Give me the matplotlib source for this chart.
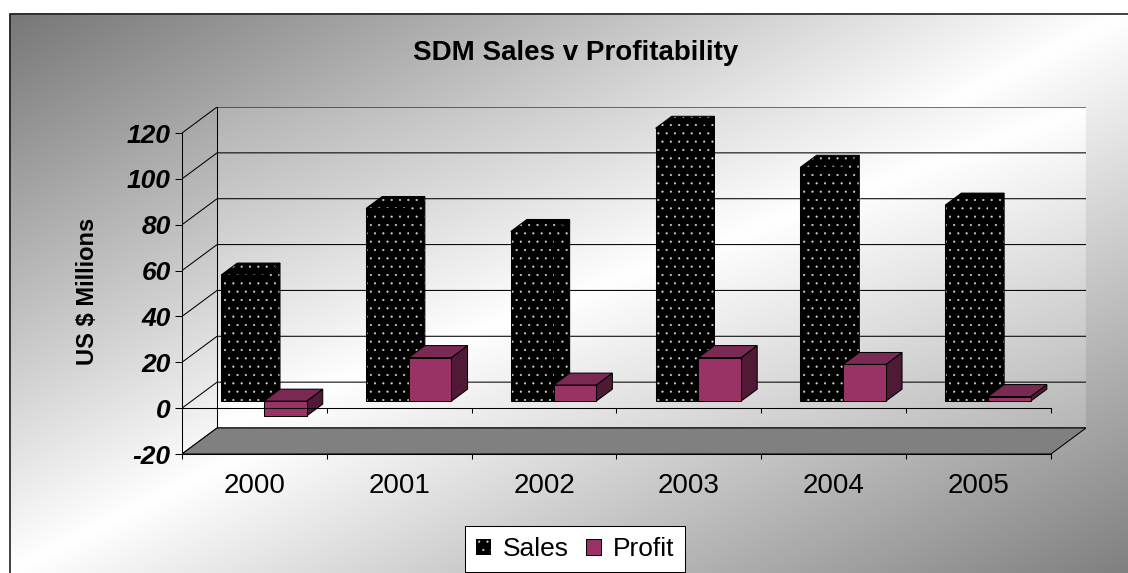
import numpy as np
import matplotlib.pyplot as plt
from matplotlib.patches import Polygon, Patch, Rectangle

plt.rcParams['font.family'] = ['Liberation Sans', 'DejaVu Sans']
plt.rcParams['hatch.color'] = '#d8d8d8'
plt.rcParams['hatch.linewidth'] = 0.3

years = ['2000', '2001', '2002', '2003', '2004', '2005']
sales = [55, 84, 74, 119, 102, 85.5]
profit = [-6.5, 19, 7, 19, 16, 2]
yticks = [-20, 0, 20, 40, 60, 80, 100, 120]

W, H = 1128, 573
DX, DY = 0.242, 11.34      # depth of the 3d box, in data units
F0, F1 = 0.27, 0.73        # bars sit between these fractions of the depth
BW = 0.295
PLUM, PLUM_TOP, PLUM_SIDE = '#993366', '#7a2952', '#4f1a36'
LW = 0.75


def diag_gradient(nx, ny, dark, dark2):
    # dark top-left and bottom-right, white along the other diagonal
    u = np.linspace(0, 1, nx)[None, :]
    v = np.linspace(0, 1, ny)[:, None]
    s = u + v
    t = 1 - np.abs(s - 1)
    d = np.where(s < 1, dark, dark2)
    g = (d + (255 - d) * t) / 255
    return np.dstack([g, g, g])


fig = plt.figure(figsize=(W / 100, H / 100), dpi=100)

bg = fig.add_axes([0, 0, 1, 1])
bg.imshow(diag_gradient(400, 200, 119, 128), extent=(9, W, H, 13),
          aspect='auto', interpolation='bilinear')
bg.add_patch(Rectangle((9.5, 13.5), W + 50, H + 50, fill=False,
                       ec='#222222', lw=1.2, clip_on=False))
bg.set_xlim(0, W)
bg.set_ylim(H, 0)
bg.axis('off')

ax = fig.add_axes([182 / W, 1 - 454 / H, (1086 - 182) / W, (454 - 107) / H])
ax.set_facecolor('none')
n = len(years)
lo, hi = yticks[0], yticks[-1]

# back wall
ax.imshow(diag_gradient(300, 150, 178, 182), extent=(DX, n + DX, lo + DY, hi + DY),
          aspect='auto', interpolation='bilinear', zorder=0)
for v in yticks:
    ax.plot([0, DX, n + DX], [v, v + DY, v + DY], color='black', lw=LW, zorder=1)
ax.plot([DX, DX], [lo + DY, hi + DY], color='black', lw=LW, zorder=1)
ax.plot([n + DX, n + DX], [lo + DY, hi + DY], color='black', lw=LW, zorder=1)

# floor
ax.add_patch(Polygon([(0, lo), (DX, lo + DY), (n + DX, lo + DY), (n, lo)],
                     fc='#808080', ec='black', lw=LW, zorder=1))


def box(xl, val, face, top, side, hatch=None):
    b, t = min(0, val), max(0, val)
    xr = xl + BW
    ox0, oy0 = F0 * DX, F0 * DY
    ox1, oy1 = F1 * DX, F1 * DY
    faces = [
        ([(xr + ox0, b + oy0), (xr + ox1, b + oy1), (xr + ox1, t + oy1), (xr + ox0, t + oy0)], side),
        ([(xl + ox0, t + oy0), (xr + ox0, t + oy0), (xr + ox1, t + oy1), (xl + ox1, t + oy1)], top),
        ([(xl + ox0, b + oy0), (xr + ox0, b + oy0), (xr + ox0, t + oy0), (xl + ox0, t + oy0)], face),
    ]
    for pts, c in faces:
        if hatch:
            ax.add_patch(Polygon(pts, fc=c, hatch=hatch, lw=0, zorder=3))
            ax.add_patch(Polygon(pts, fill=False, ec='black', lw=LW, zorder=3))
        else:
            ax.add_patch(Polygon(pts, fc=c, ec='black', lw=LW, zorder=3))


for i in range(n):
    box(i + 0.5 - BW, sales[i], 'black', 'black', 'black', hatch='..')
    box(i + 0.5, profit[i], PLUM, PLUM_TOP, PLUM_SIDE)

# category axis at zero on the front plane
ax.plot([0, n], [0, 0], color='black', lw=LW, zorder=10)
ax.plot(np.arange(n + 1), np.zeros(n + 1), ls='none', marker=3, ms=3.6,
        mew=LW, color='black', zorder=10, clip_on=False)

ax.set_xlim(0, n + DX)
ax.set_ylim(lo, hi + DY)
ax.set_yticks(yticks)
ax.set_yticklabels([str(v) for v in yticks], fontsize=19,
                   fontweight='bold', fontstyle='italic')
ax.tick_params(axis='y', direction='out', length=4.7, width=LW, pad=3.5)
ax.set_xticks(np.arange(n) + 0.5)
ax.set_xticklabels(years, fontsize=20)
ax.set_xticks(np.arange(n + 1), minor=True)
ax.tick_params(axis='x', which='major', length=0, pad=13.5)
ax.tick_params(axis='x', which='minor', length=3.6, width=LW, direction='out')
ax.spines['left'].set_bounds(lo, hi)
ax.spines['bottom'].set_bounds(0, n)
for s in ('left', 'bottom'):
    ax.spines[s].set_linewidth(LW)
for s in ('top', 'right'):
    ax.spines[s].set_visible(False)

ax.set_ylabel(r'US \$ Millions', fontsize=17, fontweight='bold')
ax.yaxis.set_label_coords(-0.092, 0.47)

fig.text(576 / W, 1 - 60 / H, 'SDM Sales v Profitability', ha='center',
         va='baseline', fontsize=20, fontweight='bold')

handles = [Patch(facecolor='black', hatch='..', label='Sales'),
           Patch(facecolor=PLUM, edgecolor='black', lw=LW, label='Profit')]
leg = fig.legend(handles=handles, loc='center', bbox_to_anchor=(575 / W, 1 - 549 / H),
                 ncol=2, fontsize=19, frameon=True, fancybox=False, edgecolor='black',
                 framealpha=1, borderpad=0.4, handlelength=0.57, handleheight=0.57,
                 handletextpad=0.45, columnspacing=0.64)
leg.get_frame().set_linewidth(LW)

fig.savefig('out.png', dpi=100)
